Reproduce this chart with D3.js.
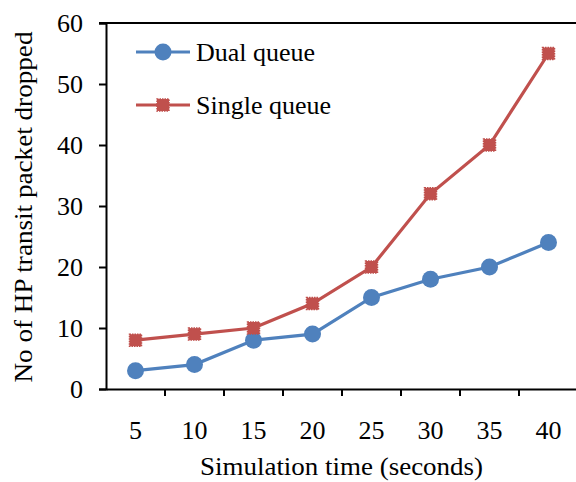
<!DOCTYPE html>
<html><head><meta charset="utf-8">
<script src="https://cdn.jsdelivr.net/npm/d3@7"></script>
<style>body{margin:0;background:#fff}svg{display:block}text{font-family:"Liberation Serif","Times New Roman",serif;fill:#000}</style>
</head><body>
<script>
const categories = ["5","10","15","20","25","30","35","40"];
const dualQueue = [3,4,8,9,15,18,20,24];
const singleQueue = [8,9,10,14,20,32,40,55];
const yTicks = [0,10,20,30,40,50,60];
const seriesNames = ["Dual queue","Single queue"];
const colors = ["#4F81BD","#C0504D"];

const W=576,H=482;
const m={l:106,r:-2,t:23,b:93};
const svg=d3.select("body").append("svg").attr("width",W).attr("height",H);
const x=d3.scaleBand().domain(categories).range([m.l,W-m.r]);
const y=d3.scaleLinear().domain([0,60]).range([H-m.b,m.t]);

svg.append("line").attr("x1",99).attr("x2",W).attr("y1",y(60)).attr("y2",y(60)).attr("stroke","#000").attr("stroke-width",2);

const yAxis=svg.append("g").attr("transform",`translate(${m.l},0)`)
  .call(d3.axisLeft(y).tickValues(yTicks).tickSize(7).tickPadding(16));
yAxis.select(".domain").attr("stroke-width",2);
yAxis.selectAll(".tick line").attr("stroke-width",2);
yAxis.selectAll("text").style("font-size","26px");

const xAxis=svg.append("g").attr("transform",`translate(0,${y(0)})`)
  .call(d3.axisBottom(x).tickSize(0));
xAxis.select(".domain").attr("stroke-width",2);
xAxis.selectAll("text").style("font-size","26px").attr("y",41).attr("dy","0.35em");
const bounds=categories.map(c=>x(c)).concat([x(categories[categories.length-1])+x.bandwidth()]).slice(1);
xAxis.selectAll(".btick").data(bounds).join("line").attr("class","btick")
  .attr("x1",d=>d).attr("x2",d=>d).attr("y1",0).attr("y2",7).attr("stroke","#000").attr("stroke-width",2);

const cx=c=>x(c)+x.bandwidth()/2;
const line=d3.line().x((d,i)=>cx(categories[i])).y(d=>y(d));

function square(g,px,py,col){
  g.append("rect").attr("x",px-6).attr("y",py-6).attr("width",12).attr("height",12)
   .attr("fill",col).attr("stroke",col).attr("stroke-width",1.5).attr("stroke-dasharray","1.5,1");
}

[dualQueue,singleQueue].forEach((data,si)=>{
  svg.append("path").datum(data).attr("d",line).attr("fill","none")
    .attr("stroke",colors[si]).attr("stroke-width",3.2);
  const g=svg.append("g");
  data.forEach((v,i)=>{
    if(si===0) g.append("circle").attr("cx",cx(categories[i])).attr("cy",y(v)).attr("r",8.5).attr("fill",colors[0]);
    else square(g,cx(categories[i]),y(v),colors[1]);
  });
});

const legY=[52,105];
seriesNames.forEach((n,i)=>{
  svg.append("line").attr("x1",136).attr("x2",190).attr("y1",legY[i]).attr("y2",legY[i])
    .attr("stroke",colors[i]).attr("stroke-width",3.2);
  if(i===0) svg.append("circle").attr("cx",163).attr("cy",legY[i]).attr("r",8.5).attr("fill",colors[0]);
  else square(svg,163,legY[i],colors[1]);
  svg.append("text").attr("x",196).attr("y",legY[i]).attr("dy","0.35em").style("font-size","26px").text(n);
});

svg.append("text").attr("x",341.5).attr("y",475).attr("text-anchor","middle")
  .style("font-size","26px").attr("textLength",283).attr("lengthAdjust","spacingAndGlyphs").text("Simulation time (seconds)");
svg.append("text").attr("transform","translate(32,207) rotate(-90)").attr("text-anchor","middle")
  .style("font-size","26px").attr("textLength",351).attr("lengthAdjust","spacingAndGlyphs").text("No of HP transit packet dropped");
</script>
</body></html>
